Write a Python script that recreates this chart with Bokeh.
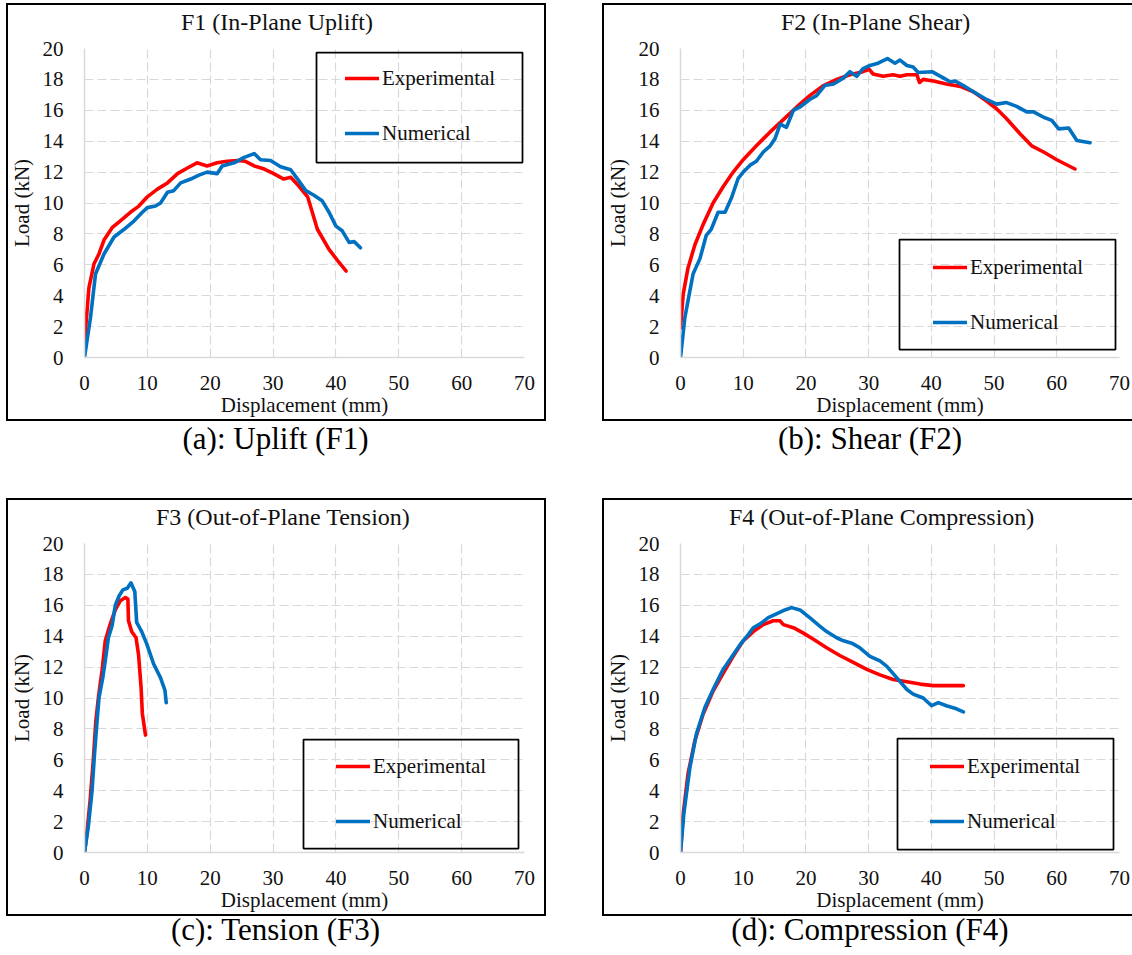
from bokeh.plotting import figure
from bokeh.models import Range1d, Legend, LegendItem, BoxAnnotation, Div, Spacer
from bokeh.layouts import row, column
from bokeh.embed import file_html
from bokeh.resources import INLINE

# ---------------- data ----------------
X_TICKS = [0, 10, 20, 30, 40, 50, 60, 70]
Y_TICKS = [0, 2, 4, 6, 8, 10, 12, 14, 16, 18, 20]
SERIES = ["Experimental", "Numerical"]
X_LABEL = "Displacement (mm)"
Y_LABEL = "Load (kN)"

TITLES = ["F1 (In-Plane Uplift)", "F2 (In-Plane Shear)",
          "F3 (Out-of-Plane Tension)", "F4 (Out-of-Plane Compression)"]
CAPTIONS = ["(a): Uplift (F1)", "(b): Shear (F2)",
            "(c): Tension (F3)", "(d): Compression (F4)"]

F1_EXP_X = [0, 0.7, 1.5, 2.3, 3.1, 4.4, 5.7, 7.3, 8.65, 10, 11.6, 13.2, 14.8, 16.3, 17.9, 19.5,
            21.1, 22.7, 24.3, 25.6, 27, 28.6, 30.1, 31.7, 32.8, 34.1, 35.5, 37.05, 38.9, 40.5, 41.6]
F1_EXP_Y = [0.97, 4.5, 6.05, 6.7, 7.6, 8.4, 8.85, 9.4, 9.8, 10.4, 10.9, 11.3, 11.9, 12.25, 12.6, 12.4,
            12.6, 12.7, 12.75, 12.7, 12.4, 12.2, 11.9, 11.55, 11.66, 11.1, 10.4, 8.3, 7.0, 6.15, 5.6]
F1_NUM_X = [0, 0.96, 1.75, 3.1, 4.7, 6.3, 7.9, 9.2, 10, 11.3, 12.1, 13.2, 14.2, 15.3, 16.9, 18.2,
            19.5, 21.1, 21.9, 23.8, 25.4, 27, 28, 29.6, 31.2, 32.8, 33.9, 35.2, 36.5, 37.8, 38.9,
            40, 41, 42.1, 42.9, 43.9]
F1_NUM_Y = [0, 2.6, 5.4, 6.7, 7.8, 8.3, 8.85, 9.4, 9.7, 9.8, 10.0, 10.7, 10.8, 11.3, 11.55, 11.8,
            12.0, 11.9, 12.4, 12.6, 12.95, 13.2, 12.8, 12.75, 12.35, 12.15, 11.55, 10.8, 10.5, 10.15,
            9.4, 8.5, 8.2, 7.45, 7.5, 7.1]

F2_EXP_X = [0, 0.43, 1.2, 2.3, 3.6, 5.2, 6.8, 8.4, 10, 12.1, 14.3, 16.4, 18.5, 20.6, 22.8, 24.9,
            27, 29.1, 30.1, 30.7, 32.3, 33.9, 35, 36.1, 37.7, 38.1, 38.7, 40.3, 42.4, 44.6, 46.7,
            48.8, 50.4, 52, 54.1, 56, 57.9, 60, 62.9]
F2_EXP_Y = [1.9, 4.1, 5.8, 7.3, 8.6, 10.0, 11.05, 12.0, 12.8, 13.7, 14.6, 15.4, 16.2, 16.95, 17.6,
            18.0, 18.3, 18.5, 18.65, 18.35, 18.2, 18.3, 18.2, 18.3, 18.3, 17.8, 18.0, 17.9, 17.7,
            17.55, 17.2, 16.6, 16.1, 15.45, 14.5, 13.7, 13.3, 12.8, 12.2]
F2_NUM_X = [0, 0.7, 2, 3.1, 4.1, 4.9, 6, 7.1, 8.1, 9.2, 10, 11.1, 12.1, 13.2, 14.3, 15.05, 15.9,
            16.9, 18.0, 19.0, 20.6, 21.7, 23.0, 24.4, 26, 27, 28.1, 29.1, 30.2, 31.5, 33, 34.2, 35,
            36.1, 37.1, 37.9, 40.1, 41.9, 43, 43.8, 45.1, 46.7, 48.8, 50.4, 52, 53.6, 55.2, 56.3,
            57.9, 59.2, 60.3, 61.9, 63.2, 65.3]
F2_NUM_Y = [0, 2.6, 5.4, 6.4, 7.9, 8.3, 9.4, 9.4, 10.3, 11.6, 12.0, 12.45, 12.7, 13.3, 13.7, 14.15,
            15.1, 14.9, 16.0, 16.2, 16.7, 16.95, 17.6, 17.7, 18.1, 18.5, 18.2, 18.7, 18.9, 19.05,
            19.35, 19.05, 19.25, 18.9, 18.8, 18.45, 18.5, 18.1, 17.85, 17.9, 17.6, 17.2, 16.7, 16.4,
            16.5, 16.25, 15.9, 15.9, 15.55, 15.35, 14.8, 14.85, 14.05, 13.9]

F3_EXP_X = [0, 0.37, 0.9, 1.4, 1.8, 2.2, 2.8, 3.3, 4.1, 4.9, 5.7, 6.5, 6.9, 7.0, 7.5, 8.2, 8.6,
            9.0, 9.2, 9.7]
F3_EXP_Y = [0, 1.2, 3.4, 6.0, 8.5, 10.0, 11.8, 13.7, 14.8, 15.7, 16.3, 16.5, 16.4, 15.0, 14.3,
            13.9, 12.8, 10.7, 9.0, 7.6]
F3_NUM_X = [0, 0.6, 1.2, 1.6, 2.0, 2.3, 2.9, 3.3, 3.8, 4.4, 4.9, 5.5, 6.1, 6.8, 7.4, 8.0, 8.3,
            9.1, 9.9, 11.0, 12.1, 12.8, 13.0]
F3_NUM_Y = [0, 1.65, 4.0, 6.4, 8.5, 10.0, 11.3, 12.4, 13.9, 14.7, 16.0, 16.6, 17.0, 17.1, 17.45,
            16.9, 14.9, 14.3, 13.5, 12.2, 11.3, 10.5, 9.7]

F4_EXP_X = [0, 0.43, 1.2, 2.3, 3.6, 5.2, 6.8, 8.4, 10, 11.6, 13.2, 14.8, 15.85, 16.4, 18, 19.6,
            21.2, 23.3, 25.4, 27.55, 29.7, 31.8, 33.9, 36.1, 38.2, 40.3, 42.4, 45.1]
F4_EXP_Y = [0, 2.5, 5.1, 7.25, 8.95, 10.45, 11.6, 12.7, 13.7, 14.3, 14.75, 15.0, 15.0, 14.75,
            14.55, 14.2, 13.8, 13.25, 12.75, 12.3, 11.85, 11.5, 11.2, 11.05, 10.9, 10.8, 10.8, 10.8]
F4_NUM_X = [0, 0.53, 1.5, 2.55, 3.9, 5.2, 6.8, 8.4, 9.5, 10.8, 11.6, 12.7, 14, 15.3, 16.65, 17.7,
            19.05, 20.6, 22.2, 23.3, 24.9, 26, 27.3, 28.6, 30.2, 31.8, 32.9, 34.5, 36.1, 37.1, 38.7,
            40.05, 41.1, 42.4, 44.0, 45.1]
F4_NUM_Y = [0, 2.5, 5.5, 7.7, 9.4, 10.55, 11.85, 12.8, 13.45, 14.1, 14.55, 14.8, 15.2, 15.45,
            15.7, 15.85, 15.7, 15.2, 14.65, 14.3, 13.9, 13.7, 13.55, 13.25, 12.7, 12.4, 12.05, 11.3,
            10.55, 10.25, 10.0, 9.5, 9.7, 9.5, 9.3, 9.1]

# ---------------- style / layout ----------------
FONT = "Liberation Serif"
CSS_FONT = "'Liberation Serif', 'Times New Roman', serif"
RED = "#ff0000"
BLUE = "#0070c0"
GRID = "#d9d9d9"
TXT = "#111111"

PANEL_H = 418          # full bordered chart area
TITLE_H = 33           # title strip inside the border
FRAME_T, FRAME_W, FRAME_H = 45, 440, 309
BORDER_ALL = "inset 0 0 0 2px black"
BORDER_OPEN_RIGHT = "inset 2px 0 0 0 black, inset 0 2px 0 0 black, inset 0 -2px 0 0 black"


def make_panel(idx, ex, ey, nx, ny, width, frame_l, title_indent, legend_loc, legend_box, border):
    fig_h = PANEL_H - TITLE_H
    top = FRAME_T - TITLE_H
    p = figure(width=width, height=fig_h, x_range=Range1d(0, 70), y_range=Range1d(0, 20),
               output_backend="svg", toolbar_location=None,
               min_border_left=frame_l, min_border_right=width - frame_l - FRAME_W,
               min_border_top=top, min_border_bottom=fig_h - top - FRAME_H)
    p.background_fill_color = "white"
    p.border_fill_alpha = 0
    p.outline_line_color = None

    p.xaxis.ticker = X_TICKS
    p.yaxis.ticker = Y_TICKS
    p.xaxis.axis_label = X_LABEL
    p.yaxis.axis_label = Y_LABEL
    for ax in (p.xaxis[0], p.yaxis[0]):
        ax.major_tick_line_color = None
        ax.minor_tick_line_color = None
        ax.major_tick_out = 0
        ax.major_tick_in = 0
        ax.minor_tick_out = 0
        ax.minor_tick_in = 0
        ax.axis_line_color = GRID
        ax.axis_line_width = 1.5
        ax.major_label_text_font = FONT
        ax.major_label_text_font_size = "21px"
        ax.major_label_text_color = TXT
        ax.axis_label_text_font = FONT
        ax.axis_label_text_font_size = "21px"
        ax.axis_label_text_font_style = "normal"
        ax.axis_label_text_color = TXT
    p.xaxis.major_label_standoff = 18
    p.yaxis.major_label_standoff = 21
    p.xaxis.axis_label_standoff = 0
    p.yaxis.axis_label_standoff = 6

    for g in (p.xgrid[0], p.ygrid[0]):
        g.grid_line_color = GRID
        g.grid_line_width = 1.2
        g.grid_line_dash = "9 4"

    r_e = p.line(ex, ey, line_color=RED, line_width=3.6, line_join="round", line_cap="round")
    r_n = p.line(nx, ny, line_color=BLUE, line_width=3.6, line_join="round", line_cap="round")

    legend = Legend(items=[LegendItem(label=SERIES[0], renderers=[r_e]),
                           LegendItem(label=SERIES[1], renderers=[r_n])],
                    location=legend_loc, border_line_color=None, background_fill_alpha=0,
                    padding=0, margin=0, spacing=29, glyph_width=34, glyph_height=26,
                    label_height=26, label_standoff=3, label_text_font=FONT,
                    label_text_font_size="21px", label_text_color=TXT)
    p.add_layout(legend)

    bl, br, bb, bt = legend_box
    p.add_layout(BoxAnnotation(left=bl, right=br, bottom=bb, top=bt,
                               left_units="screen", right_units="screen",
                               bottom_units="screen", top_units="screen",
                               fill_color=None, line_color="black", line_alpha=1.0,
                               line_width=1.75))

    title = Div(text=f'<span style="position:relative;top:3px">{TITLES[idx]}</span>',
                width=width, height=TITLE_H,
                styles={"font-family": CSS_FONT, "font-size": "24px",
                        "line-height": f"{TITLE_H}px",
                        "text-indent": f"{title_indent}px", "white-space": "nowrap",
                        "color": TXT, "margin": "0", "padding": "0"})
    return column(title, p, styles={"box-shadow": border})


def caption(text, width, height, line_h):
    return Div(text=text, width=width, height=height,
               styles={"font-family": CSS_FONT, "font-size": "31px", "line-height": line_h,
                       "text-align": "center", "color": "black", "margin": "0", "padding": "0"})


pa = make_panel(0, F1_EXP_X, F1_EXP_Y, F1_NUM_X, F1_NUM_Y, 540, 78, 175,
                (261, 211), (232, 438, 195, 305), BORDER_ALL)
pb = make_panel(1, F2_EXP_X, F2_EXP_Y, F2_NUM_X, F2_NUM_Y, 530, 77, 179,
                (253, 22), (219, 435, 8, 118), BORDER_OPEN_RIGHT)
pc = make_panel(2, F3_EXP_X, F3_EXP_Y, F3_NUM_X, F3_NUM_Y, 540, 78, 150,
                (252, 18), (219, 434, 4, 113), BORDER_ALL)
pd = make_panel(3, F4_EXP_X, F4_EXP_Y, F4_NUM_X, F4_NUM_Y, 530, 77, 127,
                (250, 18), (217, 433, 3, 114), BORDER_OPEN_RIGHT)

layout = column(
    Spacer(width=1132, height=3),
    row(Spacer(width=6, height=PANEL_H), pa, Spacer(width=56, height=PANEL_H), pb),
    row(caption(CAPTIONS[0], 551, 77, "36px"), Spacer(width=59, height=77),
        caption(CAPTIONS[1], 520, 77, "36px")),
    row(Spacer(width=6, height=PANEL_H), pc, Spacer(width=56, height=PANEL_H), pd),
    row(caption(CAPTIONS[2], 551, 38, "28px"), Spacer(width=59, height=38),
        caption(CAPTIONS[3], 520, 38, "28px")),
)

open("out.html", "w").write(file_html(layout, INLINE))
